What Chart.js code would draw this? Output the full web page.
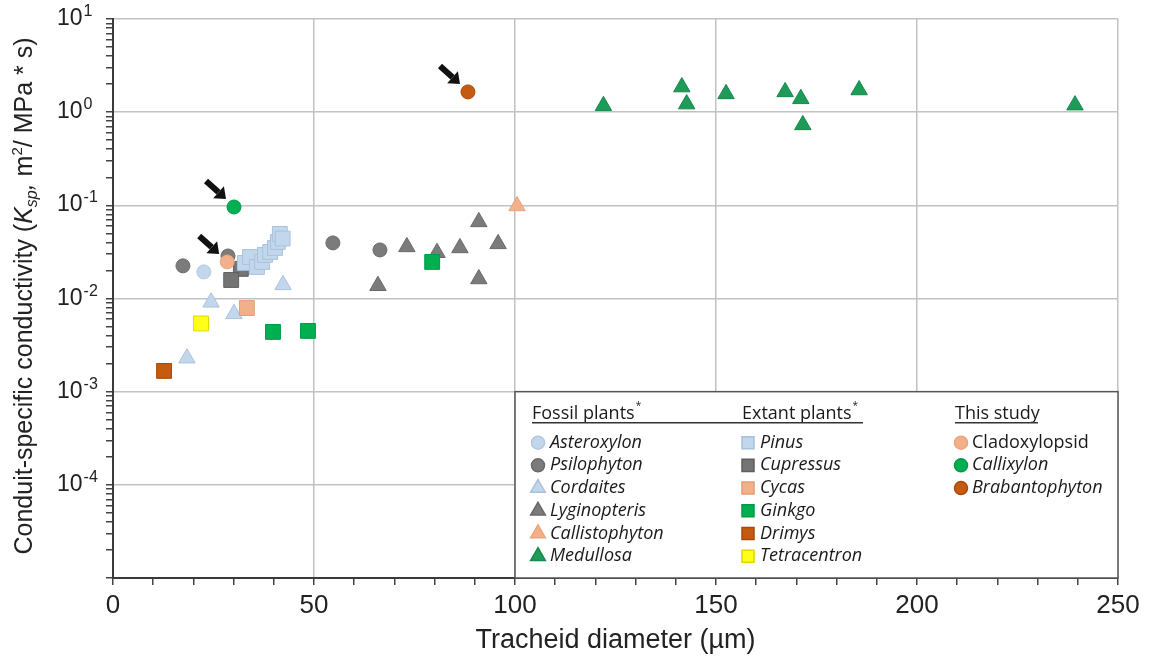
<!DOCTYPE html>
<html>
<head>
<meta charset="utf-8">
<script src="https://cdn.jsdelivr.net/npm/chart.js@4.4.0/dist/chart.umd.min.js"></script>
<style>
  html, body { margin: 0; padding: 0; background: #fff; }
  #wrap { width: 1151px; height: 669px; }
</style>
</head>
<body>
<div id="wrap"><canvas id="chart" width="1151" height="669"></canvas></div>
<script>
// tracheid diameter (µm) vs conduit-specific conductivity Ksp, one pair of arrays per taxon
const asteroxylonX = [22.6];
const asteroxylonY = [0.0193];
const psilophytonX = [17.4, 28.6, 54.7, 66.4];
const psilophytonY = [0.0224, 0.0286, 0.0395, 0.0332];
const cordaitesX = [18.4, 24.4, 30.1, 42.3];
const cordaitesY = [0.00229, 0.0091, 0.00684, 0.014];
const lyginopterisX = [65.9, 73.1, 80.6, 86.3, 91.0, 91.0, 95.8];
const lyginopterisY = [0.0137, 0.0358, 0.031, 0.0349, 0.0664, 0.0162, 0.0386];
const callistophytonX = [100.5];
const callistophytonY = [0.0985];
const medullosaX = [122, 141.5, 142.7, 152.5, 167.2, 171.1, 171.6, 185.6, 239.3];
const medullosaY = [1.17, 1.86, 1.22, 1.57, 1.65, 1.39, 0.73, 1.73, 1.19];

const pinusX = [32.8, 34.1, 35.8, 37.1, 37.8, 39.1, 40.3, 41.0, 41.5, 42.2];
const pinusY = [0.0241, 0.0279, 0.0218, 0.0247, 0.0294, 0.0316, 0.0349, 0.0405, 0.0493, 0.044];
const cupressusX = [31.8, 29.4];
const cupressusY = [0.0208, 0.0158];
const cycasX = [33.3];
const cycasY = [0.0079];
const ginkgoX = [39.8, 48.5, 79.4];
const ginkgoY = [0.00438, 0.00449, 0.0247];
const drimysX = [12.7];
const drimysY = [0.00167];
const tetracentronX = [21.9];
const tetracentronY = [0.0054];

const cladoxylopsidX = [28.4];
const cladoxylopsidY = [0.0247];
const callixylonX = [30.1];
const callixylonY = [0.096];
const brabantophytonX = [88.3];
const brabantophytonY = [1.65];

const xTickLabels = [0, 50, 100, 150, 200, 250];
const yDecadeExps = [1, 0, -1, -2, -3, -4];

const fossilNames = ['Asteroxylon', 'Psilophyton', 'Cordaites', 'Lyginopteris', 'Callistophyton', 'Medullosa'];
const extantNames = ['Pinus', 'Cupressus', 'Cycas', 'Ginkgo', 'Drimys', 'Tetracentron'];
const studyNames = ['Cladoxylopsid', 'Callixylon', 'Brabantophyton'];

const LIGHTBLUE = '#c3d7ec', GREY = '#7b7b7b', SALMON = '#f2b08a', GREEN = '#00b050',
      MGREEN = '#1e9b58', BROWN = '#c55a11', YELLOW = '#ffff1a';
const SANS = '"Liberation Sans", Arial, sans-serif';
const LEG = '"Open Sans", "Noto Sans", sans-serif';

function pts(xs, ys) { return xs.map((x, i) => ({ x: x, y: ys[i] })); }

function series(label, xs, ys, style, color, border, order) {
  const r = style === 'rect' ? 10.5 : (style === 'triangle' ? 9.5 : 7);
  return {
    label: label, data: pts(xs, ys), pointStyle: style, pointRadius: r,
    backgroundColor: color, borderColor: border, pointBorderWidth: 1,
    showLine: false, order: order
  };
}

const datasets = [
  series('Asteroxylon', asteroxylonX, asteroxylonY, 'circle', LIGHTBLUE, '#b0c8e0', 3),
  series('Psilophyton', psilophytonX, psilophytonY, 'circle', GREY, '#6a6a6a', 3),
  series('Cordaites', cordaitesX, cordaitesY, 'triangle', LIGHTBLUE, '#a9c2dc', 3),
  series('Lyginopteris', lyginopterisX, lyginopterisY, 'triangle', GREY, '#6a6a6a', 3),
  series('Callistophyton', callistophytonX, callistophytonY, 'triangle', SALMON, '#eaa57c', 3),
  series('Medullosa', medullosaX, medullosaY, 'triangle', MGREEN, '#17884b', 3),
  series('Pinus', pinusX, pinusY, 'rect', LIGHTBLUE, '#a9c2dc', 2),
  series('Cupressus', cupressusX, cupressusY, 'rect', '#747474', '#5f5f5f', 2),
  series('Cycas', cycasX, cycasY, 'rect', SALMON, '#e39d75', 2),
  series('Ginkgo', ginkgoX, ginkgoY, 'rect', GREEN, '#00994a', 2),
  series('Drimys', drimysX, drimysY, 'rect', BROWN, '#a84a0c', 2),
  series('Tetracentron', tetracentronX, tetracentronY, 'rect', YELLOW, '#e0d800', 2),
  series('Cladoxylopsid', cladoxylopsidX, cladoxylopsidY, 'circle', SALMON, '#eaa57c', 1),
  series('Callixylon', callixylonX, callixylonY, 'circle', GREEN, '#00994a', 1),
  series('Brabantophyton', brabantophytonX, brabantophytonY, 'circle', BROWN, '#a84a0c', 1)
];

function isDecade(v) {
  const l = Math.log10(v);
  return Math.abs(l - Math.round(l)) < 1e-9;
}

// custom drawing: y tick labels with superscripts, y title, arrows, grouped legend
const decorPlugin = {
  id: 'decor',
  afterDraw(chart) {
    const ctx = chart.ctx;
    const xs = chart.scales.x, ys = chart.scales.y;
    const area = chart.chartArea;

    // y tick labels 10^n
    ctx.save();
    ctx.fillStyle = '#222';
    ctx.textBaseline = 'alphabetic';
    ctx.textAlign = 'left';
    yDecadeExps.forEach(e => {
      const py = ys.getPixelForValue(Math.pow(10, e));
      ctx.font = '23px ' + SANS;
      ctx.fillText('10', 57, py + 6);
      const w = ctx.measureText('10').width;
      ctx.font = '16px ' + SANS;
      ctx.fillText(e < 0 ? '-' + Math.abs(e) : String(e), 57 + w + 1, py - 3);
    });
    ctx.restore();

    // y axis title
    ctx.save();
    ctx.translate(32, 296);
    ctx.rotate(-Math.PI / 2);
    ctx.fillStyle = '#222';
    ctx.textBaseline = 'alphabetic';
    const segs = [
      { t: 'Conduit-specific conductivity (', f: '25px ' + SANS, dy: 0 },
      { t: 'K', f: 'italic 25px ' + SANS, dy: 0 },
      { t: 'sp', f: 'italic 16px ' + SANS, dy: 5 },
      { t: ',', f: 'italic 25px ' + SANS, dy: 0 },
      { t: ' m', f: '25px ' + SANS, dy: 0 },
      { t: '2', f: '15px ' + SANS, dy: -10 },
      { t: '/ MPa * s)', f: '25px ' + SANS, dy: 0 }
    ];
    let total = 0;
    segs.forEach(s => { ctx.font = s.f; s.w = ctx.measureText(s.t).width; total += s.w; });
    let cx = -total / 2;
    segs.forEach(s => { ctx.font = s.f; ctx.fillText(s.t, cx, s.dy); cx += s.w; });
    ctx.restore();

    // arrows pointing at this study's taxa
    ctx.save();
    ctx.fillStyle = '#111';
    ctx.strokeStyle = '#111';
    studyNames.forEach(name => {
      const ds = chart.data.datasets.find(d => d.label === name);
      ds.data.forEach(p => {
        const px = xs.getPixelForValue(p.x), py = ys.getPixelForValue(p.y);
        const tx = px - 28, ty = py - 26, hx = px - 8, hy = py - 8;
        const ang = Math.atan2(hy - ty, hx - tx);
        const bx = hx - Math.cos(ang) * 10, by = hy - Math.sin(ang) * 10;
        ctx.lineWidth = 6;
        ctx.beginPath(); ctx.moveTo(tx, ty); ctx.lineTo(bx, by); ctx.stroke();
        ctx.beginPath();
        ctx.moveTo(hx, hy);
        ctx.lineTo(bx + Math.sin(ang) * 8, by - Math.cos(ang) * 8);
        ctx.lineTo(bx - Math.sin(ang) * 8, by + Math.cos(ang) * 8);
        ctx.closePath(); ctx.fill();
      });
    });
    ctx.restore();

    // legend box anchored at x = 100, y = 1e-3
    const lx = xs.getPixelForValue(100), ly = ys.getPixelForValue(1e-3);
    ctx.save();
    ctx.fillStyle = '#fff';
    ctx.fillRect(lx, ly, area.right - lx, area.bottom - ly);
    ctx.strokeStyle = '#555';
    ctx.lineWidth = 1.5;
    ctx.strokeRect(lx, ly, area.right - lx, area.bottom - ly);

    const cols = [
      { head: 'Fossil plants', star: true, names: fossilNames, hx: 17, mx: 23, tx: 35 },
      { head: 'Extant plants', star: true, names: extantNames, hx: 227, mx: 233, tx: 245 },
      { head: 'This study', star: false, names: studyNames, hx: 440, mx: 446, tx: 457 }
    ];
    ctx.fillStyle = '#1a1a1a';
    ctx.textBaseline = 'alphabetic';
    ctx.textAlign = 'left';
    cols.forEach(c => {
      ctx.font = '18px ' + LEG;
      ctx.fillText(c.head, lx + c.hx, ly + 27);
      const w = ctx.measureText(c.head).width;
      if (c.star) {
        ctx.font = '10px ' + LEG;
        ctx.fillText('*', lx + c.hx + w + 1, ly + 17);
      }
    });
    ctx.strokeStyle = '#333';
    ctx.lineWidth = 1.5;
    ctx.beginPath();
    ctx.moveTo(lx + 17, ly + 31); ctx.lineTo(lx + 348, ly + 31);
    ctx.moveTo(lx + 440, ly + 31); ctx.lineTo(lx + 523, ly + 31);
    ctx.stroke();

    cols.forEach(c => {
      c.names.forEach((name, i) => {
        const ds = chart.data.datasets.find(d => d.label === name);
        const ry = ly + 51 + i * 22.7;
        ctx.fillStyle = ds.backgroundColor;
        ctx.strokeStyle = ds.borderColor;
        const r = ds.pointStyle === 'rect' ? 8.5 : (ds.pointStyle === 'triangle' ? 8.5 : 6.5);
        Chart.helpers.drawPoint(ctx, { pointStyle: ds.pointStyle, radius: r, rotation: 0, borderWidth: 1 }, lx + c.mx, ry);
        ctx.fillStyle = '#1a1a1a';
        const ital = name !== 'Cladoxylopsid';
        ctx.font = (ital ? 'italic ' : '') + '18px ' + LEG;
        ctx.textBaseline = 'middle';
        ctx.fillText(name, lx + c.tx, ry);
        ctx.textBaseline = 'alphabetic';
      });
    });
    ctx.restore();
  }
};

new Chart(document.getElementById('chart'), {
  type: 'scatter',
  data: { datasets: datasets },
  options: {
    responsive: false,
    devicePixelRatio: 1,
    animation: false,
    events: [],
    layout: { padding: { top: 19, right: 33, left: 0, bottom: 0 } },
    plugins: { legend: { display: false }, tooltip: { enabled: false } },
    scales: {
      x: {
        type: 'linear', min: 0, max: 250,
        afterBuildTicks: s => {
          const t = [];
          for (let v = 0; v <= 250; v += 10) t.push({ value: v });
          s.ticks = t;
        },
        afterFit: s => { s.height = 91; },
        ticks: {
          autoSkip: false, maxRotation: 0, padding: 5,
          callback: v => xTickLabels.includes(v) ? String(v) : '',
          font: { family: SANS, size: 26 }, color: '#222'
        },
        grid: {
          color: c => (c.tick && xTickLabels.includes(c.tick.value)) ? '#c2c2c2' : 'rgba(0,0,0,0)',
          lineWidth: 1.5, tickColor: '#444', tickLength: 7
        },
        border: { color: '#3a3a3a', width: 2 },
        title: {
          display: true, text: 'Tracheid diameter (µm)', color: '#222',
          font: { family: SANS, size: 27 },
          padding: { top: 0, bottom: 12 }
        }
      },
      y: {
        type: 'logarithmic', min: 1e-5, max: 10,
        afterBuildTicks: s => {
          const t = [];
          for (let e = -5; e < 1; e++) for (let k = 1; k < 10; k++) t.push({ value: k * Math.pow(10, e) });
          t.push({ value: 10 });
          s.ticks = t;
        },
        afterFit: s => { s.width = 113; },
        ticks: { autoSkip: false, callback: () => '' },
        grid: {
          color: c => (c.tick && isDecade(c.tick.value)) ? '#c2c2c2' : 'rgba(0,0,0,0)',
          lineWidth: 1.5, tickColor: '#444', tickLength: 7
        },
        border: { color: '#3a3a3a', width: 2 }
      }
    }
  },
  plugins: [decorPlugin]
});
</script>
</body>
</html>
